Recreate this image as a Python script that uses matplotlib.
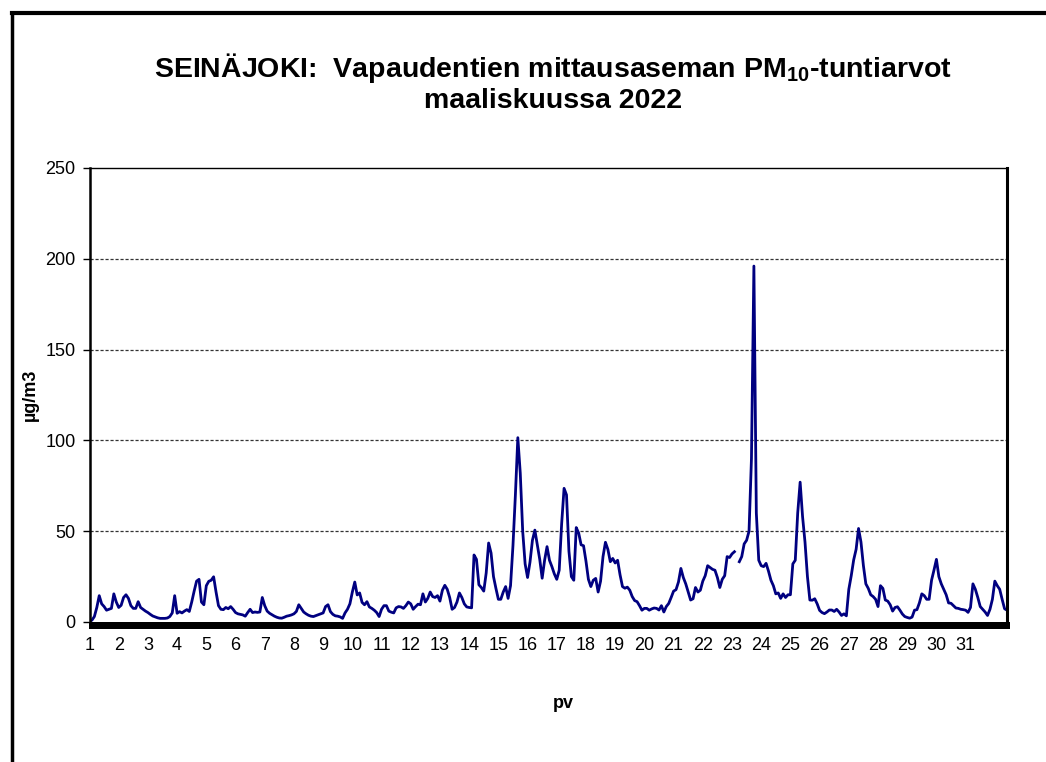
import numpy as np
import matplotlib
matplotlib.use("Agg")
import matplotlib.pyplot as plt
from matplotlib.lines import Line2D
from matplotlib.patches import Rectangle

# PM10 values (ug/m3), read at 2-hour steps, 12 values per day label unit
day01 = [0.5, 1, 3, 8, 14.5, 10, 8.5, 6.5, 7, 7.5, 15.5, 11]
day02 = [8, 9.2, 13.5, 15, 13, 9, 7.5, 7.5, 11.2, 8, 7, 6]
day03 = [5.2, 4.2, 3.3, 2.8, 2.3, 2, 2, 2, 2.2, 3, 5, 14.5]
day04 = [4.8, 5.7, 5, 6, 6.8, 5.8, 11, 17, 22.5, 23.5, 11, 9.5]
day05 = [20, 22.4, 23, 24.9, 16.5, 9, 7, 6.8, 8, 7.3, 8.5, 7]
day06 = [5.2, 4.5, 4.2, 3.9, 3.2, 5.2, 7, 5.2, 5.5, 5.3, 5.5, 13.5]
day07 = [9, 6, 4.8, 4, 3.2, 2.6, 2.2, 2.1, 2.6, 3.2, 3.5, 3.9]
day08 = [4.5, 5.8, 9.5, 7.5, 5.5, 4.5, 3.7, 3.2, 3, 3.5, 4, 4.5]
day09 = [5, 8.5, 9.5, 5.7, 4.2, 3.4, 3.2, 2.8, 2, 5, 7, 10]
day10 = [16.5, 22, 14.9, 16, 10.8, 9.5, 11.2, 8.3, 7.5, 6.5, 5.2, 3]
day11 = [7, 9, 9, 6, 5.4, 5, 7.8, 8.5, 8.3, 7.5, 9, 11]
day12 = [10, 7, 8.5, 9.8, 9.5, 15.5, 11, 13, 16.5, 14, 13.5, 14.5]
day13 = [11.5, 17.5, 20.2, 18, 13.5, 7, 8, 11, 16, 13.5, 10, 8.3]
day14 = [8, 7.8, 36.9, 34.5, 20.5, 19, 17, 27, 43.5, 38, 25, 18.5]
day15 = [12.5, 12.5, 16.5, 19.5, 13, 20, 42, 70, 101.5, 82, 50, 32]
day16 = [24.5, 33, 45, 50.6, 42.4, 34.5, 24.1, 34, 41.5, 34, 30.5, 26.5]
day17 = [23.5, 28.5, 54, 73.6, 70, 39, 25, 23, 52, 49, 42.5, 42]
day18 = [33.5, 23.5, 19.5, 23, 24, 16.5, 22.5, 36, 43.9, 40, 33.2, 35]
day19 = [32.5, 34, 26, 19.5, 18.6, 19.2, 17.5, 14, 11.8, 11.2, 9, 6.5]
day20 = [7.5, 7.5, 6.5, 7.2, 7.7, 7.5, 6.6, 9, 5.5, 8.5, 10.2, 13.5]
day21 = [17, 17.8, 22, 29.5, 24.5, 21, 16.5, 12.1, 12.8, 19, 16.5, 17.5]
day22 = [22.5, 25.5, 31, 30, 29, 28.5, 24.5, 19, 23.5, 25.5, 36, 35.5]
day23 = [37.5, 38.7, np.nan, 33.2, 36, 43, 45, 50, 90, 196, 60, 34]
day24 = [31, 30.5, 32.3, 28, 23, 20, 15.5, 16, 13, 15.5, 13.5, 15]
day25 = [15, 32, 34, 60, 77, 58, 44, 25, 12.1, 12, 12.8, 10]
day26 = [6.4, 5.2, 4.6, 5.5, 6.6, 6.6, 5.8, 7, 5.5, 3.6, 4.5, 3.4]
day27 = [18, 25.5, 34.2, 40, 51.5, 44, 31, 21, 18.5, 15, 14, 12.5]
day28 = [8.5, 20, 18.5, 12.1, 11.5, 9.5, 6, 8, 8.4, 6.5, 4.4, 3]
day29 = [2.5, 2.1, 2.7, 6.5, 6.8, 10.5, 15.5, 14.5, 12.5, 12.5, 23, 28.6]
day30 = [34.5, 25, 21, 18, 15, 10.5, 10.3, 9, 7.7, 7.5, 7, 6.8]
day31 = [6.5, 5.3, 8, 21, 18, 13.5, 8.5, 7, 5.5, 3.6, 7, 12.5]
tail = [22.5, 20, 18, 12.5, 7.3, 6.5]

day_labels = [str(d) for d in range(1, 32)]
y_ticks = [0, 50, 100, 150, 200, 250]

title_line1 = "SEINÄJOKI:  Vapaudentien mittausaseman PM$_{10}$-tuntiarvot"
title_line2 = "maaliskuussa 2022"
y_label = "µg/m3"
x_label = "pv"

values = np.concatenate([day01, day02, day03, day04, day05, day06, day07, day08,
                         day09, day10, day11, day12, day13, day14, day15, day16,
                         day17, day18, day19, day20, day21, day22, day23, day24,
                         day25, day26, day27, day28, day29, day30, day31, tail])
steps_per_day = 12
xpos = 1 + np.arange(len(values)) / steps_per_day

plt.rcParams['font.family'] = ['Liberation Sans', 'DejaVu Sans']
plt.rcParams['mathtext.default'] = 'regular'

W, H = 1046, 762
fig = plt.figure(figsize=(W / 100, H / 100), dpi=100)
fig.patch.set_facecolor('white')

L, R, B, T = 89.5, 1007, 622, 168
ax = fig.add_axes([L / W, 1 - B / H, (R - L) / W, (B - T) / H])

ax.plot(xpos, values, color='#000080', lw=2.0, solid_joinstyle='round')

ax.set_xlim(1, xpos[-1])
ax.set_ylim(0, 250)
ax.set_yticks(y_ticks)
ax.set_yticklabels([str(v) for v in y_ticks])
ax.set_xticks(range(1, 32))
ax.set_xticklabels(day_labels)

for v in y_ticks[1:-1]:
    ax.axhline(v, color='#333333', lw=0.9, ls=(0, (2.5, 1.5)), zorder=0)

ax.tick_params(axis='y', direction='out', length=5, width=1, labelsize=13, pad=5, colors='black')
ax.tick_params(axis='x', length=0, labelsize=13, pad=10.5, colors='black')

ax.spines['left'].set_linewidth(1.8)
ax.spines['top'].set_linewidth(1.0)
ax.spines['right'].set_linewidth(2.2)
ax.spines['bottom'].set_visible(False)

# thick bottom edge of the plot area (shadowed axis line)
fig.add_artist(Rectangle((88.5 / W, 1 - 628.5 / H), (1009.5 - 88.5) / W, 7 / H,
                         transform=fig.transFigure, facecolor='black', edgecolor='none'))

fig.text(553 / W, 1 - 77 / H, title_line1, ha='center', va='baseline',
         fontsize=20.5, fontweight='bold')
fig.text(553 / W, 1 - 108 / H, title_line2, ha='center', va='baseline',
         fontsize=20.5, fontweight='bold')
fig.text(30 / W, 1 - 395 / H, y_label, rotation=90, ha='center', va='center',
         fontsize=13, fontweight='bold')
fig.text(563 / W, 1 - 703 / H, x_label, ha='center', va='center',
         fontsize=13, fontweight='bold')

# outer chart frame (top and left edges visible)
fig.add_artist(Line2D([12 / W, 1.0], [1 - 13 / H, 1 - 13 / H], color='black', lw=3,
                      transform=fig.transFigure, solid_capstyle='projecting'))
fig.add_artist(Line2D([12 / W, 12 / W], [1 - 13 / H, 0.0], color='black', lw=2.5,
                      transform=fig.transFigure, solid_capstyle='projecting'))

fig.savefig('out.png', dpi=100, facecolor='white')
